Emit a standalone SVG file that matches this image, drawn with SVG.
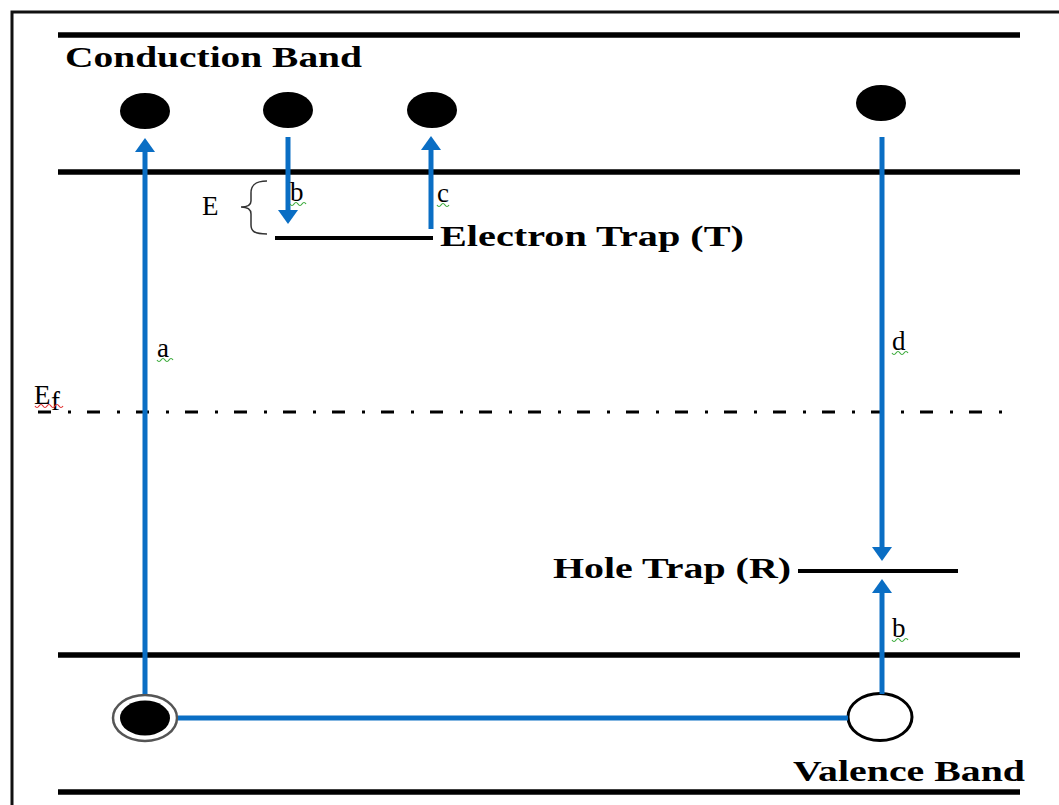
<svg xmlns="http://www.w3.org/2000/svg" width="1059" height="805" viewBox="0 0 1059 805">
<style>
.band{stroke:#000;stroke-width:5.5;fill:none}
.trap{stroke:#000;stroke-width:4;fill:none}
.arr{stroke:#0A6EC4;stroke-width:5;fill:none}
.blue{stroke:#0A6EC4;stroke-width:5;fill:none}
.big{font-family:"Liberation Serif","Times New Roman",serif;font-weight:bold;font-size:30px;fill:#000}
.lbl{font-family:"Liberation Serif","Times New Roman",serif;font-size:27px;fill:#000}
.sq{fill:none;stroke:#3cab3c;stroke-width:1.2}
.sqr{fill:none;stroke:#e03030;stroke-width:1.2}
</style>
<defs>
<marker id="ah" viewBox="0 -10 14 20" markerWidth="14" markerHeight="20" refX="1" refY="0" orient="auto" markerUnits="userSpaceOnUse">
<path d="M0,-10 L14,0 L0,10 z" fill="#0A6EC4"/>
</marker>
</defs>
<rect width="1059" height="805" fill="#fff"/>
<rect x="12" y="12" width="1080" height="820" fill="none" stroke="#111" stroke-width="3"/>

<g id="bands">
<line class="band" x1="58" y1="35" x2="1020" y2="35"/>
<line class="band" x1="58" y1="172" x2="1020" y2="172"/>
<line class="band" x1="58" y1="655" x2="1020" y2="655"/>
<line class="band" x1="58" y1="792" x2="1020" y2="792"/>
</g>
<g id="fermi">
<line x1="38" y1="412" x2="1015" y2="412" stroke="#000" stroke-width="3" stroke-dasharray="13 17 3 16"/>
<text class="lbl" x="34" y="404" font-size="27">E</text>
<text class="lbl" x="51" y="410" font-size="19">f</text>
<path class="sqr" d="M35,406 q2,3 4,0 t4,0 t4,0 t4,0 t4,0 t4,0 t4,0"/>
</g>

<g id="labels">
<text class="big" x="65" y="67" textLength="297" lengthAdjust="spacingAndGlyphs">Conduction Band</text>
<text class="big" x="440" y="246" textLength="304" lengthAdjust="spacingAndGlyphs">Electron Trap (T)</text>
<text class="big" x="553" y="578" textLength="238" lengthAdjust="spacingAndGlyphs">Hole Trap (R)</text>
<text class="big" x="793" y="781" textLength="232" lengthAdjust="spacingAndGlyphs">Valence Band</text>
</g>

<g id="electrons">
<ellipse id="e1" cx="145" cy="111" rx="25" ry="18" fill="#000"/>
<ellipse id="e2" cx="288" cy="110" rx="25" ry="18" fill="#000"/>
<ellipse id="e3" cx="432" cy="110" rx="25" ry="18" fill="#000"/>
<ellipse id="e4" cx="881" cy="103" rx="25" ry="18" fill="#000"/>
</g>
<g id="valence-electron">
<ellipse cx="145" cy="718" rx="32" ry="23" fill="#fff" stroke="#555" stroke-width="2.5"/>
<ellipse cx="145" cy="718" rx="25" ry="17.5" fill="#000"/>
</g>
<g id="hole">
<ellipse cx="880" cy="717" rx="32" ry="23.5" fill="#fff" stroke="#000" stroke-width="3"/>
</g>

<g id="traps">
<line class="trap" x1="275" y1="238" x2="433" y2="238"/>
<line class="trap" x1="798" y1="571" x2="958" y2="571"/>
<path d="M267,181 C254,181 251,186 251,193 L251,201 C251,205 247,207 241,207 C247,207 251,209 251,214 L251,225 C251,231 254,234 267,234" fill="none" stroke="#333" stroke-width="1.5"/>
<text class="lbl" x="202" y="215" font-size="26">E</text>
</g>

<g id="connectors">
<line class="arr" x1="145" y1="694" x2="145" y2="151" marker-end="url(#ah)"/>
<line class="arr" x1="288" y1="137" x2="288" y2="211" marker-end="url(#ah)"/>
<line class="arr" x1="431" y1="229" x2="431" y2="149" marker-end="url(#ah)"/>
<line class="arr" x1="882" y1="137" x2="882" y2="548" marker-end="url(#ah)"/>
<line class="arr" x1="882" y1="694" x2="882" y2="592" marker-end="url(#ah)"/>
<line class="blue" x1="178" y1="718" x2="848" y2="718"/>
</g>

<g id="arrow-labels">
<text class="lbl" x="157" y="357">a</text>
<path class="sq" d="M157,360 q2,3 4,0 t4,0 t4,0 t4,0"/>
<text class="lbl" x="290" y="201">b</text>
<path class="sq" d="M290,204 q2,3 4,0 t4,0 t4,0 t4,0"/>
<text class="lbl" x="437" y="202">c</text>
<path class="sq" d="M437,205 q2,3 4,0 t4,0 t4,0"/>
<text class="lbl" x="892" y="350">d</text>
<path class="sq" d="M892,353 q2,3 4,0 t4,0 t4,0 t4,0"/>
<text class="lbl" x="892" y="637">b</text>
<path class="sq" d="M892,640 q2,3 4,0 t4,0 t4,0 t4,0"/>
</g>
</svg>
